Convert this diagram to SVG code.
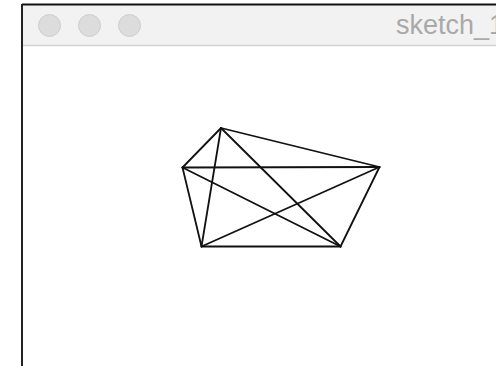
<svg xmlns="http://www.w3.org/2000/svg" width="496" height="366" viewBox="0 0 496 366">
<style>
.edge{stroke:#111;stroke-width:1.8;stroke-linecap:round;fill:none}
.btn{fill:#dcdcdc;stroke:#cfcfcf;stroke-width:1}
.title{font-family:"Liberation Sans",Arial,sans-serif;font-size:27px;fill:#a9a9a9}
</style>
<rect x="0" y="0" width="496" height="366" fill="#fff"/>
<g id="window">
<rect x="22" y="4.5" width="480" height="41" fill="#f2f2f2"/>
<line x1="22" y1="45.5" x2="496" y2="45.5" stroke="#d2d2d2" stroke-width="1.5"/>
<line x1="22" y1="4.5" x2="496" y2="4.5" stroke="#111" stroke-width="2"/>
<line x1="22" y1="4" x2="22" y2="366" stroke="#222" stroke-width="2"/>
<circle class="btn" cx="49.5" cy="25.5" r="11"/>
<circle class="btn" cx="89.5" cy="25.5" r="11"/>
<circle class="btn" cx="129.5" cy="25.5" r="11"/>
<text class="title" x="396" y="33.5">sketch_1</text>
</g>
<g id="connectors">
<line class="edge" x1="221" y1="128" x2="182.5" y2="167.5"/>
<line class="edge" x1="221" y1="128" x2="379.5" y2="167"/>
<line class="edge" x1="221" y1="128" x2="201.5" y2="246.5"/>
<line class="edge" x1="221" y1="128" x2="340.5" y2="246.5"/>
<line class="edge" x1="182.5" y1="167.5" x2="379.5" y2="167"/>
<line class="edge" x1="182.5" y1="167.5" x2="201.5" y2="246.5"/>
<line class="edge" x1="182.5" y1="167.5" x2="340.5" y2="246.5"/>
<line class="edge" x1="379.5" y1="167" x2="201.5" y2="246.5"/>
<line class="edge" x1="379.5" y1="167" x2="340.5" y2="246.5"/>
<line class="edge" x1="201.5" y1="246.5" x2="340.5" y2="246.5"/>
</g>
</svg>
